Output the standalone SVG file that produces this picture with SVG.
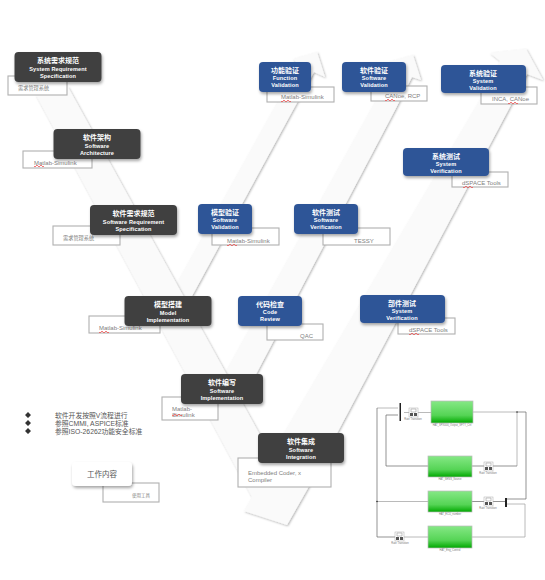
<svg xmlns="http://www.w3.org/2000/svg" width="545" height="580" viewBox="0 0 545 580">
<defs>
<filter id="s" x="-20%" y="-20%" width="140%" height="150%"><feDropShadow dx="1" dy="2" stdDeviation="1.5" flood-color="#000" flood-opacity="0.35"/></filter>
<filter id="bs" x="-10%" y="-10%" width="120%" height="120%"><feDropShadow dx="1" dy="1" stdDeviation="1.2" flood-color="#000" flood-opacity="0.3"/></filter>
<linearGradient id="g" x1="0" y1="0" x2="0" y2="1"><stop offset="0" stop-color="#86e886"/><stop offset="0.65" stop-color="#55d455"/><stop offset="1" stop-color="#00a800"/></linearGradient>
<path id="w" d="M0 0q1 2 2 0t2 0 2 0 2 0 2 0" fill="none" stroke="#f04040" stroke-width="0.7"/>
<g id="rt"><rect width="9" height="9" fill="#fff" stroke="#aaa" stroke-width="0.5"/><rect x="1" y="5" width="3" height="3" fill="#555"/><rect x="5" y="5" width="3" height="3" fill="#555"/><path d="M2 1h5v3H2z" fill="none" stroke="#888" stroke-width="0.5"/></g>
</defs>
<style>
text{font-family:"Liberation Sans","Noto Sans CJK SC",sans-serif}
.band{fill:#fafafa;filter:url(#bs)}
.d{fill:#404040;filter:url(#s)}
.b{fill:#2f5597;filter:url(#s)}
.tool{fill:#fff;stroke:#b0b0b0;stroke-width:1.1}
.t{font-size:7px;font-weight:bold;fill:#fff;text-anchor:middle}
.e{font-size:5.6px;font-weight:bold;fill:#fff;text-anchor:middle;letter-spacing:.1px}
.l{font-size:6px;fill:#808080}
.c{font-size:5.2px;fill:#808080}
.bl{font-size:6.800px;fill:#555}
.wire{fill:none;stroke:#a8a8a8;stroke-width:0.8}
.dk{fill:none;stroke:#666;stroke-width:0.7}
.blk{fill:url(#g);stroke:#bbb;stroke-width:0.7}
.tiny{font-size:2.6px;fill:#777;text-anchor:middle}
</style>
<g id="connectors">
<polygon class="band" points="177,283 273,110 299,65 293,59 317,52 325,77 314,72 293,110 192,296 185,305"/>
<polygon class="band" points="225,373 365,120 397,62 388,62 413,55 421,80 412,77 395,110 253,380 240,392"/>
<polygon class="band" points="36,95 68,87 271,455 478,103 500,61 490,53 526,49 543,80 527,74 512,103 308,488 287,525 244,511 252,497"/>
</g>
<g id="n1"><rect class="tool" x="8" y="76" width="59" height="19"/><text class="c" x="18" y="90">需求管理系统</text><rect class="d" x="14.500" y="52" width="87" height="30" rx="4"/><text class="t" x="58" y="63">系统需求规范</text><text class="e" x="58" y="70.500">System Requirement</text><text class="e" x="58" y="77.500">Specification</text></g>
<g id="n2"><rect class="tool" x="23" y="151" width="69" height="17"/><text class="l" x="34" y="165">Matlab-Simulink</text><use href="#w" x="34" y="166"/><rect class="d" x="53.500" y="129" width="87" height="30" rx="4"/><text class="t" x="97" y="140">软件架构</text><text class="e" x="97" y="147.500">Software</text><text class="e" x="97" y="154.500">Architecture</text></g>
<g id="n3"><rect class="tool" x="53" y="226" width="67" height="19"/><text class="c" x="63" y="240">需求管理系统</text><rect class="d" x="90" y="205" width="87" height="30" rx="4"/><text class="t" x="133.500" y="216">软件需求规范</text><text class="e" x="133.500" y="223.500">Software Requirement</text><text class="e" x="133.500" y="230.500">Specification</text></g>
<g id="n4"><rect class="tool" x="89" y="316" width="71" height="17"/><text class="l" x="99" y="330">Matlab-Simulink</text><use href="#w" x="99" y="332"/><rect class="d" x="124.500" y="296" width="87" height="30" rx="4"/><text class="t" x="168" y="307">模型搭建</text><text class="e" x="168" y="314.500">Model</text><text class="e" x="168" y="321.500">Implementation</text></g>
<g id="n5"><rect class="tool" x="162" y="397" width="56" height="23"/><text class="l" x="172" y="411">Matlab-</text><text class="l" x="172" y="417">Simulink</text><use href="#w" x="172" y="415"/><rect class="d" x="181" y="374" width="82" height="30" rx="4"/><text class="t" x="222" y="385">软件编写</text><text class="e" x="222" y="392.500">Software</text><text class="e" x="222" y="399.500">Implementation</text></g>
<g id="n6"><rect class="tool" x="238" y="458" width="93" height="29"/><text class="l" x="248" y="475">Embedded Coder, x</text><text class="l" x="248" y="481.500">Compiler</text><rect class="d" x="258" y="433" width="86" height="30" rx="4"/><text class="t" x="301" y="444">软件集成</text><text class="e" x="301" y="451.500">Software</text><text class="e" x="301" y="458.500">Integration</text></g>
<g id="b1"><rect class="tool" x="267" y="87" width="67" height="15"/><text class="l" x="281" y="99">Matlab-Simulink</text><use href="#w" x="281" y="101"/><rect class="b" x="259" y="62" width="52" height="30" rx="4"/><text class="t" x="285" y="72.500">功能验证</text><text class="e" x="285" y="79.500">Function</text><text class="e" x="285" y="86.500">Validation</text></g>
<g id="b2"><rect class="tool" x="371" y="86" width="56" height="15"/><text class="l" x="385" y="98">CANoe, RCP</text><use href="#w" x="385" y="100"/><rect class="b" x="342" y="62" width="64" height="30" rx="4"/><text class="t" x="374" y="72.500">软件验证</text><text class="e" x="374" y="79.500">Software</text><text class="e" x="374" y="86.500">Validation</text></g>
<g id="b3"><rect class="tool" x="481" y="87" width="56" height="17"/><text class="l" x="492" y="101">INCA, CANoe</text><use href="#w" x="508" y="103"/><rect class="b" x="441" y="65" width="85" height="28" rx="4"/><text class="t" x="483" y="75.500">系统验证</text><text class="e" x="483" y="82.500">System</text><text class="e" x="483" y="89.500">Validation</text></g>
<g id="b4"><rect class="tool" x="452" y="172" width="56" height="15"/><text class="l" x="462" y="185">dSPACE Tools</text><use href="#w" x="463" y="187"/><rect class="b" x="403" y="148" width="86" height="28" rx="4"/><text class="t" x="446" y="158.500">系统测试</text><text class="e" x="446" y="165.500">System</text><text class="e" x="446" y="172.500">Verification</text></g>
<g id="b5"><rect class="tool" x="212" y="228" width="67" height="17"/><text class="l" x="227" y="243">Matlab-Simulink</text><use href="#w" x="227" y="245"/><rect class="b" x="198" y="204" width="54" height="30" rx="4"/><text class="t" x="225" y="215">模型验证</text><text class="e" x="225" y="222">Software</text><text class="e" x="225" y="229">Validation</text></g>
<g id="b6"><rect class="tool" x="323" y="228" width="67" height="17"/><text class="l" x="354" y="243">TESSY</text><rect class="b" x="294" y="204" width="64" height="30" rx="4"/><text class="t" x="326" y="215">软件测试</text><text class="e" x="326" y="222">Software</text><text class="e" x="326" y="229">Verification</text></g>
<g id="b7"><rect class="tool" x="267" y="324" width="56" height="16"/><text class="l" x="300" y="338">QAC</text><rect class="b" x="238" y="296" width="64" height="30" rx="4"/><text class="t" x="270" y="307">代码检查</text><text class="e" x="270" y="314">Code</text><text class="e" x="270" y="321">Review</text></g>
<g id="b8"><rect class="tool" x="398" y="318" width="57" height="16"/><text class="l" x="409" y="332">dSPACE Tools</text><use href="#w" x="409" y="334"/><rect class="b" x="360" y="295" width="85" height="28" rx="4"/><text class="t" x="402" y="306">部件测试</text><text class="e" x="402" y="313">System</text><text class="e" x="402" y="320">Verification</text></g>
<g id="notes">
<path d="M28 412l3 3-3 3-3-3zM28 420l3 3-3 3-3-3zM28 428l3 3-3 3-3-3z" fill="#333"/>
<text class="bl" x="55" y="418">软件开发按照V流程进行</text>
<text class="bl" x="55" y="426">参照CMMI, ASPICE标准</text>
<text class="bl" x="55" y="434">参照ISO-26262功能安全标准</text>
</g>
<g id="legend"><rect class="tool" x="103" y="483" width="56" height="19"/><text x="132" y="497" style="font-size:4.500px;fill:#808080">使用工具</text><rect x="72" y="462" width="60" height="24" rx="4" fill="#fff" filter="url(#s)"/><text x="102" y="477" style="font-size:7.500px;fill:#555;text-anchor:middle">工作内容</text></g>
<g id="simulink">
<path class="wire" d="M473 412H517M377 501.500H428M404 537H428M377 408H398M404 412.500H409M418 412.500H431M472 537H525V504H507M517 412V466"/>
<path class="dk" d="M517 412H526V499H506M517 466H493M484 466H472M428 466H386V415H398M377 408V537H395M472 501.500H484M493 501.500H505"/>
<rect x="399.500" y="403" width="1.500" height="18" fill="#222"/><rect x="505" y="498" width="2" height="9" fill="#222"/>
<circle cx="517" cy="412" r="0.800" fill="#333"/><circle cx="377" cy="501.500" r="0.800" fill="#333"/>
<use href="#rt" x="409" y="408"/><use href="#rt" x="484" y="462"/><use href="#rt" x="484" y="497"/><use href="#rt" x="395" y="532"/>
<rect class="blk" x="431" y="401" width="42" height="22"/><rect class="blk" x="428" y="456" width="44" height="21"/><rect class="blk" x="428" y="491" width="44" height="21"/><rect class="blk" x="428" y="526" width="44" height="22"/>
<text class="tiny" x="452" y="426">HAT_SPX000_Output_SFTY_Ctrl</text><text class="tiny" x="450" y="480">HAT_SENS_Source</text><text class="tiny" x="450" y="515">HAT_ECU_number</text><text class="tiny" x="450" y="551">HAT_Eng_Control</text>
<text class="tiny" x="413" y="420">Rate Transition</text><text class="tiny" x="488" y="474">Rate Transition</text><text class="tiny" x="488" y="509">Rate Transition</text><text class="tiny" x="400" y="544">Rate Transition</text>
</g>
</svg>
